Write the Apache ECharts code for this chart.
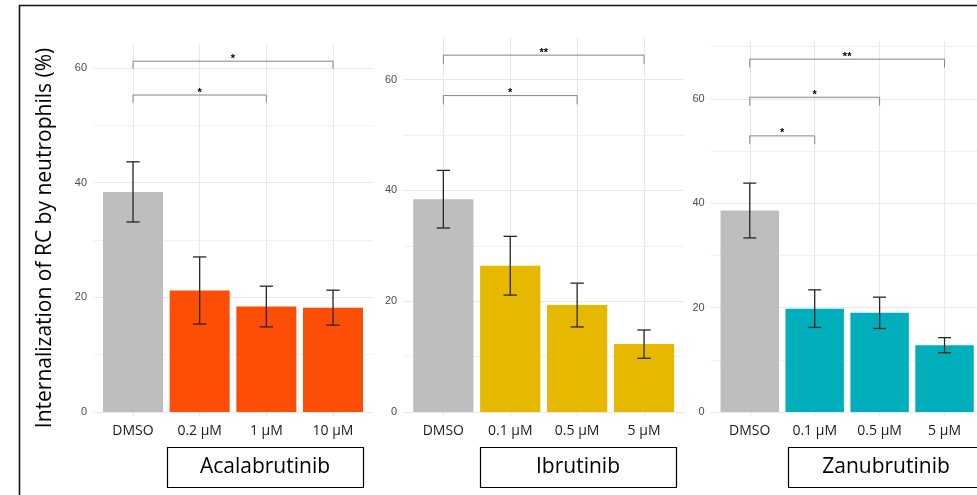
<!DOCTYPE html>
<html><head><meta charset="utf-8">
<script src="https://cdn.jsdelivr.net/npm/echarts@6/dist/echarts.min.js"></script>
<style>html,body{margin:0;padding:0;background:#fff}#c{width:977px;height:495px}</style>
</head><body><div id="c"></div>
<script>
// ---------------- data ----------------
const drugs = ['Acalabrutinib', 'Ibrutinib', 'Zanubrutinib'];
const acalaCats = ['DMSO', '0.2 µM', '1 µM', '10 µM'];
const acalaMean = [38.4, 21.2, 18.4, 18.2];
const acalaSd = [5.25, 5.85, 3.55, 3.05];
const acalaBrackets = [[0, 3, 61.2, '*'], [0, 2, 55.3, '*']];
const ibruCats = ['DMSO', '0.1 µM', '0.5 µM', '5 µM'];
const ibruMean = [38.4, 26.4, 19.3, 12.25];
const ibruSd = [5.2, 5.3, 3.95, 2.55];
const ibruBrackets = [[0, 3, 64.4, '**'], [0, 2, 57.1, '*']];
const zanuCats = ['DMSO', '0.1 µM', '0.5 µM', '5 µM'];
const zanuMean = [38.6, 19.8, 19.0, 12.8];
const zanuSd = [5.25, 3.6, 3.0, 1.45];
const zanuBrackets = [[0, 3, 67.6, '**'], [0, 2, 60.3, '*'], [0, 1, 52.9, '*']];
const yLabelStep = 20;
const yMax = [64.2, 67.6, 71];
const tipLen = [1.3, 1.6, 1.6];
const yTitle = 'Internalization of RC by neutrophils (%)';

// ---------------- style / layout ----------------
const dmsoColor = '#BEBEBE';
const drugColors = ['#FC4E07', '#E7B800', '#00AFBB'];
const panels = [
  {cats: acalaCats, mean: acalaMean, sd: acalaSd, br: acalaBrackets},
  {cats: ibruCats, mean: ibruMean, sd: ibruSd, br: ibruBrackets},
  {cats: zanuCats, mean: zanuMean, sd: zanuSd, br: zanuBrackets}
];
const layout = [
  {fgLeft: 99.67, fgWidth: 266.67, top: 44, box: [167, 363]},
  {fgLeft: 409.9, fgWidth: 267.6, top: 37.4, box: [480, 676]},
  {fgLeft: 717.3, fgWidth: 266.7, top: 41.4, box: [788, 984]}
];
const bottomY = 412;

const grids = [], xAxes = [], yAxes = [], series = [], graphics = [];

function errRender(params, api) {
  const x = api.value(0), m = api.value(1), s = api.value(2);
  const t = api.coord([x, m + s]), b = api.coord([x, m - s]);
  const hw = api.size([1, 0])[0] * 0.1;
  const st = {stroke: '#262626', lineWidth: 1.3};
  return {type: 'group', children: [
    {type: 'line', shape: {x1: t[0], y1: t[1], x2: b[0], y2: b[1]}, style: st},
    {type: 'line', shape: {x1: t[0] - hw, y1: t[1], x2: t[0] + hw, y2: t[1]}, style: st},
    {type: 'line', shape: {x1: b[0] - hw, y1: b[1], x2: b[0] + hw, y2: b[1]}, style: st}
  ]};
}

panels.forEach((p, i) => {
  const L = layout[i];
  const band = L.fgWidth / 4;
  const bgLeft = L.fgLeft - 0.1 * band;
  const bgWidth = band * 4.2;
  const h = bottomY - L.top;
  // background grid (horizontal grid lines + y labels)
  grids.push({left: bgLeft, top: L.top, width: bgWidth, height: h});
  xAxes.push({type: 'value', gridIndex: 2 * i, show: false, min: 0, max: 1});
  yAxes.push({
    type: 'value', gridIndex: 2 * i, min: 0, max: yMax[i], interval: 10,
    axisLine: {show: false}, axisTick: {show: false},
    axisLabel: {
      margin: 6, color: '#4d4d4d', fontSize: 11, fontFamily: 'Liberation Sans',
      formatter: v => (v % yLabelStep === 0 ? String(v) : ''), showMaxLabel: false
    },
    splitLine: {show: true, showMaxLine: false, lineStyle: {color: ['#e8e8e8', '#f1f1f1'], width: 1}}
  });
  // foreground grid (bars)
  grids.push({left: L.fgLeft, top: L.top, width: L.fgWidth, height: h});
  xAxes.push({
    type: 'category', gridIndex: 2 * i + 1, data: p.cats,
    axisLine: {show: false},
    axisTick: {show: true, alignWithLabel: true, length: 4, lineStyle: {color: '#e3e3e3'}},
    axisLabel: {margin: 12, color: '#1a1a1a', fontSize: 14, fontFamily: 'Open Sans'},
    splitLine: {show: true, alignWithLabel: true, lineStyle: {color: '#e8e8e8', width: 1}}
  });
  yAxes.push({type: 'value', gridIndex: 2 * i + 1, min: 0, max: yMax[i], show: false, splitLine: {show: false}});

  series.push({
    type: 'bar', xAxisIndex: 2 * i + 1, yAxisIndex: 2 * i + 1, barWidth: '90%',
    data: p.mean.map((v, j) => ({value: v, itemStyle: {color: j === 0 ? dmsoColor : drugColors[i]}})),
    silent: true
  });
  series.push({
    type: 'custom', xAxisIndex: 2 * i + 1, yAxisIndex: 2 * i + 1, z: 5,
    encode: {x: 0, y: [1, 2]},
    data: p.mean.map((v, j) => [j, v, p.sd[j]]),
    renderItem: errRender, silent: true
  });
  const labels = p.br.map(b => b[3]);
  const tip = tipLen[i];
  series.push({
    type: 'custom', xAxisIndex: 2 * i + 1, yAxisIndex: 2 * i + 1, z: 5,
    encode: {x: [0, 1], y: 2},
    data: p.br.map(b => [b[0], b[1], b[2], tip]),
    renderItem: function (params, api) {
      const a = api.coord([api.value(0), api.value(2)]);
      const b = api.coord([api.value(1), api.value(2)]);
      const ta = api.coord([api.value(0), api.value(2) - api.value(3)]);
      return {type: 'group', children: [
        {type: 'polyline', shape: {points: [[a[0], ta[1]], [a[0], a[1]], [b[0], b[1]], [b[0], ta[1]]]},
         style: {stroke: '#858585', lineWidth: 1, fill: null}},
        {type: 'text', x: (a[0] + b[0]) / 2, y: a[1] + 3,
         style: {text: labels[params.dataIndex], fill: '#000', font: 'bold 11px "Liberation Sans"',
                 align: 'center', verticalAlign: 'bottom', textAlign: 'center', textVerticalAlign: 'bottom'}}
      ]};
    },
    silent: true
  });

  // facet label box
  graphics.push({type: 'rect', shape: {x: L.box[0] + 0.5, y: 447.5, width: L.box[1] - L.box[0], height: 40},
    style: {fill: '#fff', stroke: '#000', lineWidth: 1.2}, z: 10});
  graphics.push({type: 'text', x: (L.box[0] + L.box[1]) / 2, y: 467.5, z: 11,
    style: {text: drugs[i], font: '21px "Open Sans"', fill: '#000', align: 'center', verticalAlign: 'middle',
            textAlign: 'center', textVerticalAlign: 'middle'}});
});

graphics.push({type: 'rect', shape: {x: 19.5, y: 5.5, width: 1100, height: 1000},
  style: {fill: null, stroke: '#111', lineWidth: 1.6}, z: 20, silent: true});
graphics.push({type: 'text', x: 45, y: 238, rotation: Math.PI / 2, z: 11,
  style: {text: yTitle, font: '21px "Open Sans"', fill: '#000', align: 'center', verticalAlign: 'middle',
          textAlign: 'center', textVerticalAlign: 'middle'}});

const chart = echarts.init(document.getElementById('c'), null, {renderer: 'canvas'});
chart.setOption({
  animation: false,
  backgroundColor: '#fff',
  grid: grids, xAxis: xAxes, yAxis: yAxes, series: series,
  graphic: {elements: graphics}
});
</script></body></html>
